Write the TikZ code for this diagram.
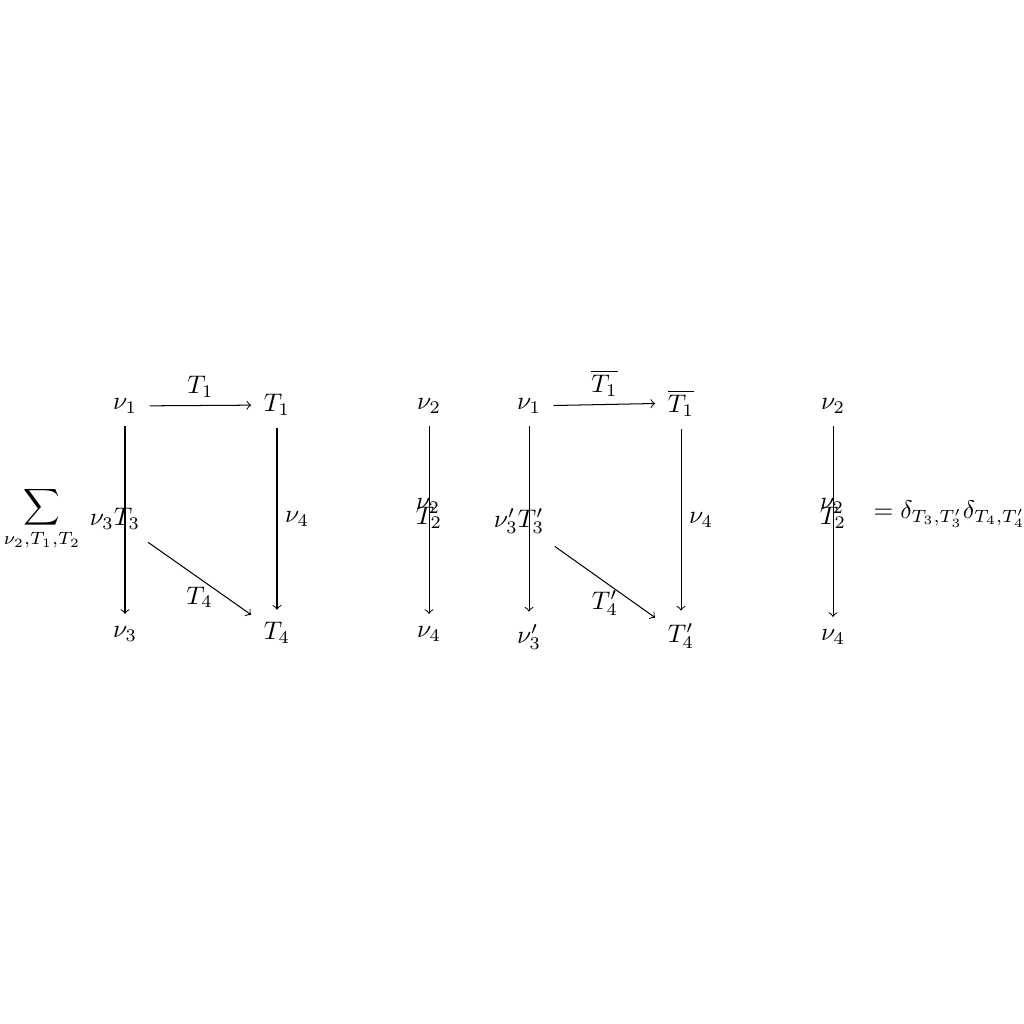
\documentclass[tikz,border=0pt]{standalone}
\usepackage{amsmath}
\begin{document}
\begin{tikzpicture}[x=0.393pt,y=-0.393pt,
  obj/.style={inner sep=4.8pt},
  lab/.style={inner sep=3pt},
  arr/.style={->}]
\useasboundingbox (0,0) rectangle (1024,1024);
% sum
\node[inner sep=0pt] (sum) at (42,519) {$\displaystyle\sum_{\nu_2,T_1,T_2}$};
% left diagram
\node[obj] (a1) at (125,406) {$\nu_1$};
\node[obj] (b1) at (277,405) {$T_1$};
\node[obj] (c1) at (429,406) {$\nu_2$};
\node[obj] (a2) at (115,519) {$\nu_3T_3$};
\node[obj] (c2a) at (428,506) {$\nu_2$};
\node[obj] (c2b) at (429,518) {$T_2$};
\node[obj] (a3) at (125,634) {$\nu_3$};
\node[obj] (b3) at (277,633) {$T_4$};
\node[obj] (c3) at (429,634) {$\nu_4$};
\draw[arr] (a1) -- node[lab,above] {$T_1$} (b1);
\draw[arr] (a1) -- (a3);
\draw[arr] (b1) -- node[lab,right] {$\nu_4$} (b3);
\draw[arr] (a2) -- node[lab,below] {$T_4$} (b3);
\draw[arr] (c1) -- (c3);
% right diagram
\node[obj] (d1) at (529,406) {$\nu_1$};
\node[obj] (e1) at (681,403) {$\overline{T_1}$};
\node[obj] (f1) at (833,406) {$\nu_2$};
\node[obj] (d2) at (519,521) {$\nu'_3T'_3$};
\node[obj] (f2a) at (832,506) {$\nu_2$};
\node[obj] (f2b) at (833,518) {$T_2$};
\node[obj] (d3) at (529,637) {$\nu'_3$};
\node[obj] (e3) at (681,636) {$T'_4$};
\node[obj] (f3) at (833,637) {$\nu_4$};
\draw[arr] (d1) -- node[lab,above] {$\overline{T_1}$} (e1);
\draw[arr] (d1) -- (d3);
\draw[arr] (e1) -- node[lab,right] {$\nu_4$} (e3);
\draw[arr] (d2) -- node[lab,below] {$T'_4$} (e3);
\draw[arr] (f1) -- (f3);
% result
\node[inner sep=0pt,anchor=base west] (res) at (873,518) {$=\delta_{T_3,T'_3}\delta_{T_4,T'_4}$};
\end{tikzpicture}
\end{document}
